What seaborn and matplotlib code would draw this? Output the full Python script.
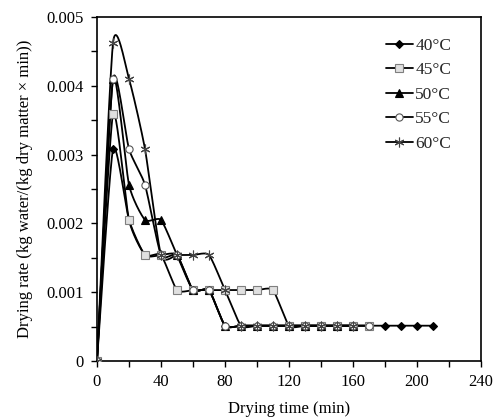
import numpy as np
import pandas as pd
import matplotlib
matplotlib.use("Agg")
import matplotlib.pyplot as plt
import seaborn as sns
from matplotlib.lines import Line2D
from matplotlib.ticker import MultipleLocator, FuncFormatter

# ---------------- data ----------------
series_labels = ["40°C", "45°C", "50°C", "55°C", "60°C"]

time_40 = [0, 10, 20, 30, 40, 50, 60, 70, 80, 90, 100, 110, 120, 130, 140, 150,
           160, 170, 180, 190, 200, 210]
rate_40 = [0, 0.00308, 0.00205, 0.00154, 0.00154, 0.00154, 0.00103, 0.00103,
           0.000513, 0.000513, 0.000513, 0.000513, 0.000513, 0.000513, 0.000513,
           0.000513, 0.000513, 0.000513, 0.000513, 0.000513, 0.000513, 0.000513]

time_45 = [0, 10, 20, 30, 40, 50, 60, 70, 80, 90, 100, 110, 120, 130, 140, 150,
           160, 170]
rate_45 = [0, 0.00359, 0.00205, 0.00154, 0.00154, 0.00103, 0.00103, 0.00103,
           0.00103, 0.00103, 0.00103, 0.00103, 0.000513, 0.000513, 0.000513,
           0.000513, 0.000513, 0.000513]

time_50 = [0, 10, 20, 30, 40, 50, 60, 70, 80, 90, 100, 110, 120, 130, 140, 150,
           160]
rate_50 = [0, 0.00410, 0.00256, 0.00205, 0.00205, 0.00154, 0.00103, 0.00103,
           0.000513, 0.000513, 0.000513, 0.000513, 0.000513, 0.000513, 0.000513,
           0.000513, 0.000513]

time_55 = [0, 10, 20, 30, 40, 50, 60, 70, 80, 90, 100, 110, 120, 130, 140, 150,
           160, 170]
rate_55 = [0, 0.00410, 0.00308, 0.00256, 0.00154, 0.00154, 0.00103, 0.00103,
           0.000513, 0.000513, 0.000513, 0.000513, 0.000513, 0.000513, 0.000513,
           0.000513, 0.000513, 0.000513]

time_60 = [0, 10, 20, 30, 40, 50, 60, 70, 80, 90, 100, 110, 120, 130, 140, 150,
           160]
rate_60 = [0, 0.00462, 0.00410, 0.00308, 0.00154, 0.00154, 0.00154, 0.00154,
           0.00103, 0.000513, 0.000513, 0.000513, 0.000513, 0.000513, 0.000513,
           0.000513, 0.000513]

x_ticks = [0, 40, 80, 120, 160, 200, 240]
y_ticks = [0, 0.001, 0.002, 0.003, 0.004, 0.005]

# ---------------- styling ----------------
sns.set_theme(style="ticks")
plt.rcParams["font.family"] = ["Liberation Serif", "DejaVu Serif"]

styles = [
    dict(marker="D", ms=4.2, mfc="black", mec="black", mew=0.8),
    dict(marker="s", ms=5.2, mfc="#e0e0e0", mec="#7f7f7f", mew=0.8),
    dict(marker="^", ms=5.2, mfc="black", mec="black", mew=0.8),
    dict(marker="o", ms=5.2, mfc="white", mec="#555555", mew=0.8),
    dict(marker=(6, 2, 0), ms=7.0, mfc="#444444", mec="#444444", mew=0.8),
]


def smooth_curve(x, y, k=0.1, n=30):
    """Excel-like smoothed line (Bezier through the data points)."""
    x = np.asarray(x, float)
    y = np.asarray(y, float)
    px = np.concatenate([[x[0]], x, [x[-1]]])
    py = np.concatenate([[y[0]], y, [y[-1]]])
    xs, ys = [], []
    t = np.linspace(0, 1, n)
    for i in range(1, len(px) - 2):
        p0 = np.array([px[i], py[i]])
        p3 = np.array([px[i + 1], py[i + 1]])
        c1 = p0 + (np.array([px[i + 1], py[i + 1]]) - np.array([px[i - 1], py[i - 1]])) * k
        c2 = p3 - (np.array([px[i + 2], py[i + 2]]) - np.array([px[i], py[i]])) * k
        b = ((1 - t) ** 3)[:, None] * p0 + (3 * (1 - t) ** 2 * t)[:, None] * c1 \
            + (3 * (1 - t) * t ** 2)[:, None] * c2 + (t ** 3)[:, None] * p3
        xs.extend(b[:, 0])
        ys.extend(b[:, 1])
    return np.array(xs), np.array(ys)


fig = plt.figure(figsize=(5.01, 4.18), dpi=100)
ax = fig.add_axes([0.1936, 0.1364, 0.7665, 0.8230])

all_t = [time_40, time_45, time_50, time_55, time_60]
all_r = [rate_40, rate_45, rate_50, rate_55, rate_60]

handles = []
for lab, tt, rr, st in zip(series_labels, all_t, all_r, styles):
    sx, sy = smooth_curve(tt, rr)
    df = pd.DataFrame({"t": sx, "r": sy})
    sns.lineplot(data=df, x="t", y="r", ax=ax, color="black", linewidth=1.3,
                 sort=False, estimator=None, legend=False)
    ax.plot(tt, rr, linestyle="none", zorder=3, **st)
    handles.append(Line2D([0], [0], color="black", linewidth=1.3, label=lab, **st))

ax.set_xlim(0, 240)
ax.set_ylim(0, 0.005)
ax.set_xticks(x_ticks)
ax.set_yticks(y_ticks)
ax.xaxis.set_minor_locator(MultipleLocator(20))
ax.yaxis.set_minor_locator(MultipleLocator(0.0005))
ax.yaxis.set_major_formatter(FuncFormatter(lambda v, p: "0" if abs(v) < 1e-12 else f"{v:.3f}"))

ax.tick_params(axis="both", which="both", direction="out", color="black",
               width=1.0, labelsize=12, labelcolor="black")
ax.tick_params(which="major", length=4.5, pad=5)
ax.tick_params(which="minor", length=4.5)
for s in ax.spines.values():
    s.set_color("black")
    s.set_linewidth(1.2)

ax.set_xlabel("Drying time (min)", fontsize=12, color="black", labelpad=8)
ax.set_ylabel("Drying rate (kg water/(kg dry matter × min))", fontsize=12,
              color="black", labelpad=10)

ax.legend(handles=handles, loc="upper left", bbox_to_anchor=(0.72, 0.975),
          frameon=False, fontsize=12.5, handlelength=1.55, handletextpad=0.15,
          labelspacing=0.48, borderpad=0.2)

fig.savefig("out.png", dpi=100)
